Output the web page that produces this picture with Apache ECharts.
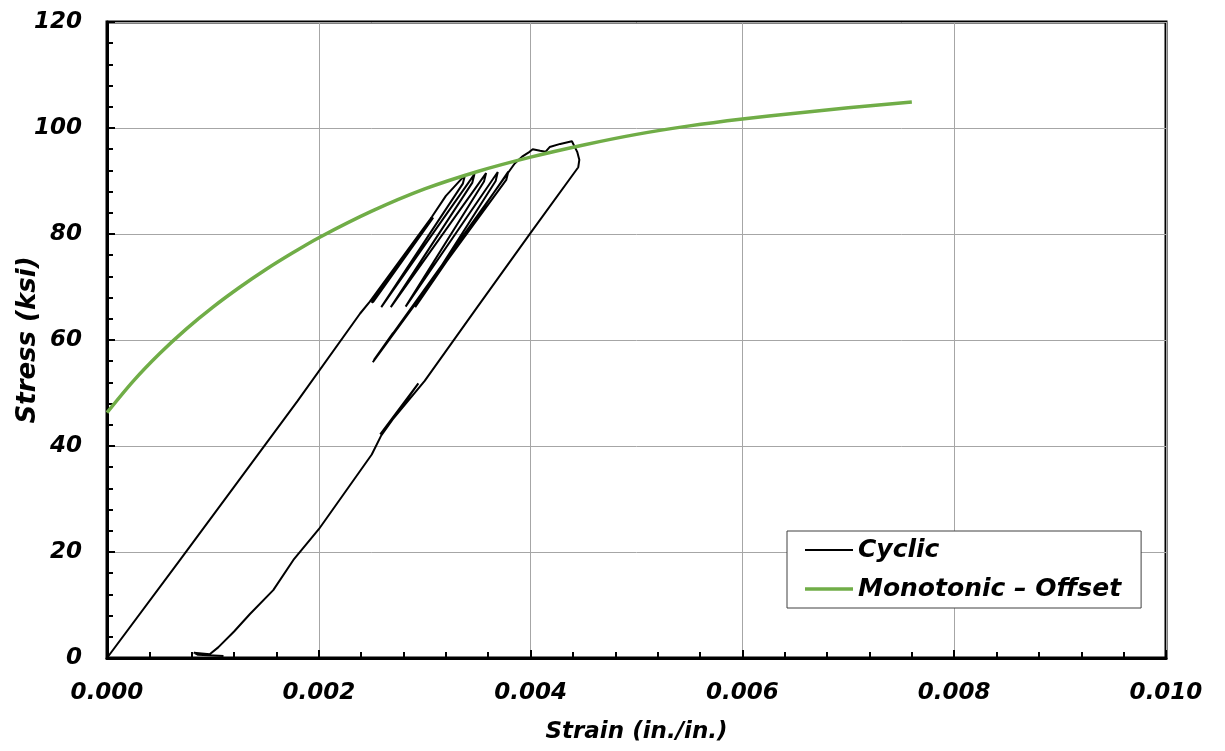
<!DOCTYPE html>
<html>
<head>
<meta charset="utf-8">
<script src="https://cdn.jsdelivr.net/npm/echarts@6/dist/echarts.min.js"></script>
<style>
  html, body { margin: 0; padding: 0; background: #fff; }
  #chart { width: 1225px; height: 751px; }
</style>
</head>
<body>
<div id="chart"></div>
<script>
// cyclic test path (strain in./in., stress ksi)
const cyclicStrain = [
  0, 0.00069, 0.0012, 0.0018, 0.00239, 0.00248,
  0.00306, 0.0025, 0.00307, 0.00249, 0.00308, 0.00251, 0.00307,
  0.0032, 0.00338, 0.00336, 0.00259,
  0.00347, 0.00345, 0.00268,
  0.00358, 0.00356, 0.00282,
  0.00369, 0.00367, 0.00291,
  0.00379, 0.00377, 0.00251,
  0.0027, 0.00252,
  0.00385, 0.00392, 0.00399, 0.00402, 0.00409, 0.00414, 0.00418, 0.00428, 0.00439, 0.0044, 0.00444, 0.00446, 0.00445,
  0.004, 0.0035, 0.003,
  0.00258, 0.00294, 0.00259,
  0.0025, 0.002, 0.00176, 0.00157, 0.00135, 0.0012, 0.00105, 0.00097, 0.00082, 0.00086, 0.0011
]
const cyclicStress = [
  0, 18.5, 32.3, 48.5, 65, 67.2,
  83, 67, 83.2, 67.3, 83.1, 67.1, 83.3,
  87.2, 91.1, 89.5, 66.2,
  91.3, 89.7, 66.2,
  91.5, 89.9, 66.3,
  91.7, 90, 66.2,
  91.8, 90.2, 55.8,
  61.3, 56.2,
  93.3, 94.6, 95.5, 96, 95.7, 95.5, 96.4, 97, 97.5, 97.2, 95.5, 94, 92.6,
  80.2, 66.3, 52.3,
  42.2, 51.8, 42,
  38.4, 24.3, 18.5, 12.8, 8.3, 5, 2, 0.7, 1.0, 0.6, 0.4
]

// monotonic curve shifted by offset
const monoStrain = [0, 0.00025, 0.0005, 0.00075, 0.001, 0.00125, 0.0015, 0.00175, 0.002, 0.0025,
  0.003, 0.0035, 0.004, 0.0045, 0.005, 0.0055, 0.006, 0.0065, 0.007, 0.0076]
const monoStress = [46.3, 52.3, 57.5, 62.1, 66.2, 69.9, 73.3, 76.4, 79.3, 84.3,
  88.5, 91.8, 94.5, 96.8, 98.8, 100.4, 101.7, 102.8, 103.8, 104.9]

const seriesNames = ['Cyclic', 'Monotonic \u2013 Offset']

const toPairs = (xs, ys) => xs.map((x, i) => [x, ys[i]])

const font = {
  fontFamily: 'DejaVu Sans',
  fontWeight: 'bold',
  fontStyle: 'italic',
  fontSize: 23,
  color: '#000',
}

const chart = echarts.init(document.getElementById('chart'))

chart.setOption({
  animation: false,
  backgroundColor: '#fff',
  grid: {
    left: 107,
    right: 59,
    top: 22,
    bottom: 93,
    show: true,
    borderColor: '#000',
    borderWidth: 3,
  },
  legend: {
    orient: 'vertical',
    left: 787,
    top: 531,
    padding: [4, 20, 4, 18],
    itemWidth: 48,
    itemHeight: 14,
    itemGap: 9,
    backgroundColor: '#fff',
    borderColor: '#404040',
    borderWidth: 1,
    borderRadius: 0,
    textStyle: { ...font, fontSize: 25, lineHeight: 30 },
    data: [
      { name: seriesNames[0], icon: 'path://M0,0H48V2H0Z' },
      { name: seriesNames[1], icon: 'path://M0,0H48V3.5H0Z' },
    ],
  },
  xAxis: {
    type: 'value',
    min: 0,
    max: 0.01,
    interval: 0.002,
    name: 'Strain (in./in.)',
    nameLocation: 'middle',
    nameGap: 63,
    nameMoveOverlap: false,
    nameTextStyle: font,
    axisLine: { onZero: false, lineStyle: { color: '#000', width: 3 } },
    axisTick: { inside: true, length: 8, lineStyle: { color: '#000', width: 2 } },
    minorTick: { show: true, splitNumber: 5, length: 6, lineStyle: { color: '#000', width: 2 } },
    axisLabel: { ...font, margin: 24, formatter: (v) => v.toFixed(3) },
    splitLine: { show: true, lineStyle: { color: '#a6a6a6', width: 1 } },
  },
  yAxis: {
    type: 'value',
    min: 0,
    max: 120,
    interval: 20,
    name: 'Stress (ksi)',
    nameLocation: 'middle',
    nameGap: 66,
    nameMoveOverlap: false,
    nameTextStyle: { ...font, fontSize: 26 },
    axisLine: { onZero: false, lineStyle: { color: '#000', width: 3 } },
    axisTick: { inside: true, length: 8, lineStyle: { color: '#000', width: 2 } },
    minorTick: { show: true, splitNumber: 5, length: 6, lineStyle: { color: '#000', width: 2 } },
    axisLabel: { ...font, margin: 25 },
    splitLine: { show: true, lineStyle: { color: '#a6a6a6', width: 1 } },
  },
  series: [
    {
      name: seriesNames[0],
      type: 'line',
      symbol: 'none',
      data: toPairs(cyclicStrain, cyclicStress),
      lineStyle: { color: '#000', width: 2 },
      itemStyle: { color: '#000' },
    },
    {
      name: seriesNames[1],
      type: 'line',
      symbol: 'none',
      smooth: 0.3,
      data: toPairs(monoStrain, monoStress),
      lineStyle: { color: '#70ad47', width: 3.5 },
      itemStyle: { color: '#70ad47' },
    },
  ],
})
</script>
</body>
</html>
